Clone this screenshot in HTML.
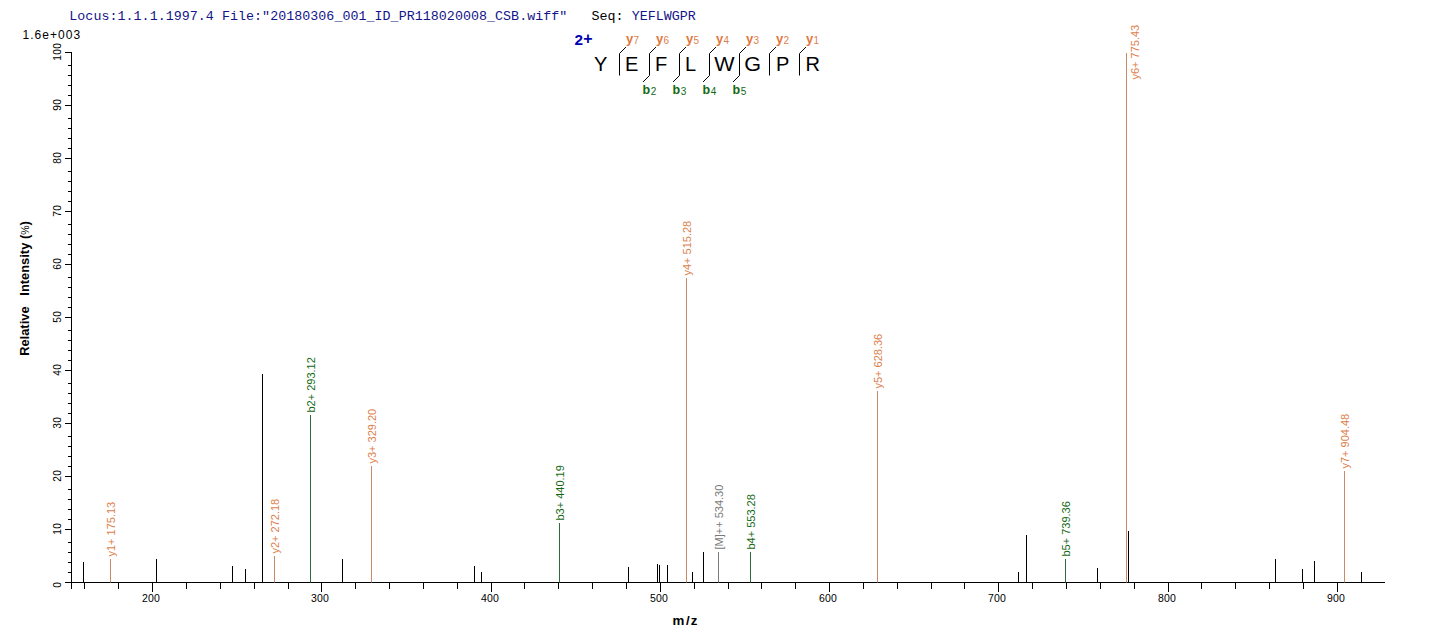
<!DOCTYPE html>
<html><head><meta charset="utf-8"><style>
html,body{margin:0;padding:0;background:#fff;width:1436px;height:642px}
svg{display:block}
text{font-family:"Liberation Sans",sans-serif}
.mono{font-family:"Liberation Mono",monospace}
.serif{font-family:"Liberation Serif",serif}
</style></head><body>
<svg width="1436" height="642" viewBox="0 0 1436 642">
<rect width="1436" height="642" fill="#fff"/>
<line x1="65" y1="582.5" x2="1385" y2="582.5" stroke="#000" stroke-width="1"/>
<line x1="71.5" y1="52" x2="71.5" y2="589" stroke="#000" stroke-width="1"/>
<line x1="65" y1="582.5" x2="71.5" y2="582.5" stroke="#000" stroke-width="1"/>
<line x1="65" y1="529.5" x2="71.5" y2="529.5" stroke="#000" stroke-width="1"/>
<line x1="65" y1="476.5" x2="71.5" y2="476.5" stroke="#000" stroke-width="1"/>
<line x1="65" y1="423.5" x2="71.5" y2="423.5" stroke="#000" stroke-width="1"/>
<line x1="65" y1="370.5" x2="71.5" y2="370.5" stroke="#000" stroke-width="1"/>
<line x1="65" y1="317.5" x2="71.5" y2="317.5" stroke="#000" stroke-width="1"/>
<line x1="65" y1="264.5" x2="71.5" y2="264.5" stroke="#000" stroke-width="1"/>
<line x1="65" y1="211.5" x2="71.5" y2="211.5" stroke="#000" stroke-width="1"/>
<line x1="65" y1="158.5" x2="71.5" y2="158.5" stroke="#000" stroke-width="1"/>
<line x1="65" y1="105.5" x2="71.5" y2="105.5" stroke="#000" stroke-width="1"/>
<line x1="65" y1="52.5" x2="71.5" y2="52.5" stroke="#000" stroke-width="1"/>
<line x1="68" y1="572.5" x2="71.5" y2="572.5" stroke="#000" stroke-width="1"/>
<line x1="68" y1="562.5" x2="71.5" y2="562.5" stroke="#000" stroke-width="1"/>
<line x1="68" y1="552.5" x2="71.5" y2="552.5" stroke="#000" stroke-width="1"/>
<line x1="68" y1="542.5" x2="71.5" y2="542.5" stroke="#000" stroke-width="1"/>
<line x1="68" y1="519.5" x2="71.5" y2="519.5" stroke="#000" stroke-width="1"/>
<line x1="68" y1="509.5" x2="71.5" y2="509.5" stroke="#000" stroke-width="1"/>
<line x1="68" y1="499.5" x2="71.5" y2="499.5" stroke="#000" stroke-width="1"/>
<line x1="68" y1="489.5" x2="71.5" y2="489.5" stroke="#000" stroke-width="1"/>
<line x1="68" y1="466.5" x2="71.5" y2="466.5" stroke="#000" stroke-width="1"/>
<line x1="68" y1="456.5" x2="71.5" y2="456.5" stroke="#000" stroke-width="1"/>
<line x1="68" y1="446.5" x2="71.5" y2="446.5" stroke="#000" stroke-width="1"/>
<line x1="68" y1="436.5" x2="71.5" y2="436.5" stroke="#000" stroke-width="1"/>
<line x1="68" y1="413.5" x2="71.5" y2="413.5" stroke="#000" stroke-width="1"/>
<line x1="68" y1="403.5" x2="71.5" y2="403.5" stroke="#000" stroke-width="1"/>
<line x1="68" y1="393.5" x2="71.5" y2="393.5" stroke="#000" stroke-width="1"/>
<line x1="68" y1="383.5" x2="71.5" y2="383.5" stroke="#000" stroke-width="1"/>
<line x1="68" y1="360.5" x2="71.5" y2="360.5" stroke="#000" stroke-width="1"/>
<line x1="68" y1="350.5" x2="71.5" y2="350.5" stroke="#000" stroke-width="1"/>
<line x1="68" y1="340.5" x2="71.5" y2="340.5" stroke="#000" stroke-width="1"/>
<line x1="68" y1="330.5" x2="71.5" y2="330.5" stroke="#000" stroke-width="1"/>
<line x1="68" y1="307.5" x2="71.5" y2="307.5" stroke="#000" stroke-width="1"/>
<line x1="68" y1="297.5" x2="71.5" y2="297.5" stroke="#000" stroke-width="1"/>
<line x1="68" y1="287.5" x2="71.5" y2="287.5" stroke="#000" stroke-width="1"/>
<line x1="68" y1="277.5" x2="71.5" y2="277.5" stroke="#000" stroke-width="1"/>
<line x1="68" y1="254.5" x2="71.5" y2="254.5" stroke="#000" stroke-width="1"/>
<line x1="68" y1="244.5" x2="71.5" y2="244.5" stroke="#000" stroke-width="1"/>
<line x1="68" y1="234.5" x2="71.5" y2="234.5" stroke="#000" stroke-width="1"/>
<line x1="68" y1="224.5" x2="71.5" y2="224.5" stroke="#000" stroke-width="1"/>
<line x1="68" y1="201.5" x2="71.5" y2="201.5" stroke="#000" stroke-width="1"/>
<line x1="68" y1="191.5" x2="71.5" y2="191.5" stroke="#000" stroke-width="1"/>
<line x1="68" y1="181.5" x2="71.5" y2="181.5" stroke="#000" stroke-width="1"/>
<line x1="68" y1="171.5" x2="71.5" y2="171.5" stroke="#000" stroke-width="1"/>
<line x1="68" y1="148.5" x2="71.5" y2="148.5" stroke="#000" stroke-width="1"/>
<line x1="68" y1="138.5" x2="71.5" y2="138.5" stroke="#000" stroke-width="1"/>
<line x1="68" y1="128.5" x2="71.5" y2="128.5" stroke="#000" stroke-width="1"/>
<line x1="68" y1="118.5" x2="71.5" y2="118.5" stroke="#000" stroke-width="1"/>
<line x1="68" y1="95.5" x2="71.5" y2="95.5" stroke="#000" stroke-width="1"/>
<line x1="68" y1="85.5" x2="71.5" y2="85.5" stroke="#000" stroke-width="1"/>
<line x1="68" y1="75.5" x2="71.5" y2="75.5" stroke="#000" stroke-width="1"/>
<line x1="68" y1="65.5" x2="71.5" y2="65.5" stroke="#000" stroke-width="1"/>
<line x1="152.5" y1="582.5" x2="152.5" y2="592" stroke="#000" stroke-width="1"/>
<line x1="321.5" y1="582.5" x2="321.5" y2="592" stroke="#000" stroke-width="1"/>
<line x1="491.5" y1="582.5" x2="491.5" y2="592" stroke="#000" stroke-width="1"/>
<line x1="660.5" y1="582.5" x2="660.5" y2="592" stroke="#000" stroke-width="1"/>
<line x1="829.5" y1="582.5" x2="829.5" y2="592" stroke="#000" stroke-width="1"/>
<line x1="998.5" y1="582.5" x2="998.5" y2="592" stroke="#000" stroke-width="1"/>
<line x1="1168.5" y1="582.5" x2="1168.5" y2="592" stroke="#000" stroke-width="1"/>
<line x1="1337.5" y1="582.5" x2="1337.5" y2="592" stroke="#000" stroke-width="1"/>
<line x1="84.5" y1="582.5" x2="84.5" y2="589" stroke="#000" stroke-width="1"/>
<line x1="118.5" y1="582.5" x2="118.5" y2="589" stroke="#000" stroke-width="1"/>
<line x1="186.5" y1="582.5" x2="186.5" y2="589" stroke="#000" stroke-width="1"/>
<line x1="220.5" y1="582.5" x2="220.5" y2="589" stroke="#000" stroke-width="1"/>
<line x1="254.5" y1="582.5" x2="254.5" y2="589" stroke="#000" stroke-width="1"/>
<line x1="288.5" y1="582.5" x2="288.5" y2="589" stroke="#000" stroke-width="1"/>
<line x1="355.5" y1="582.5" x2="355.5" y2="589" stroke="#000" stroke-width="1"/>
<line x1="389.5" y1="582.5" x2="389.5" y2="589" stroke="#000" stroke-width="1"/>
<line x1="423.5" y1="582.5" x2="423.5" y2="589" stroke="#000" stroke-width="1"/>
<line x1="457.5" y1="582.5" x2="457.5" y2="589" stroke="#000" stroke-width="1"/>
<line x1="524.5" y1="582.5" x2="524.5" y2="589" stroke="#000" stroke-width="1"/>
<line x1="558.5" y1="582.5" x2="558.5" y2="589" stroke="#000" stroke-width="1"/>
<line x1="592.5" y1="582.5" x2="592.5" y2="589" stroke="#000" stroke-width="1"/>
<line x1="626.5" y1="582.5" x2="626.5" y2="589" stroke="#000" stroke-width="1"/>
<line x1="694.5" y1="582.5" x2="694.5" y2="589" stroke="#000" stroke-width="1"/>
<line x1="728.5" y1="582.5" x2="728.5" y2="589" stroke="#000" stroke-width="1"/>
<line x1="761.5" y1="582.5" x2="761.5" y2="589" stroke="#000" stroke-width="1"/>
<line x1="795.5" y1="582.5" x2="795.5" y2="589" stroke="#000" stroke-width="1"/>
<line x1="863.5" y1="582.5" x2="863.5" y2="589" stroke="#000" stroke-width="1"/>
<line x1="897.5" y1="582.5" x2="897.5" y2="589" stroke="#000" stroke-width="1"/>
<line x1="931.5" y1="582.5" x2="931.5" y2="589" stroke="#000" stroke-width="1"/>
<line x1="964.5" y1="582.5" x2="964.5" y2="589" stroke="#000" stroke-width="1"/>
<line x1="1032.5" y1="582.5" x2="1032.5" y2="589" stroke="#000" stroke-width="1"/>
<line x1="1066.5" y1="582.5" x2="1066.5" y2="589" stroke="#000" stroke-width="1"/>
<line x1="1100.5" y1="582.5" x2="1100.5" y2="589" stroke="#000" stroke-width="1"/>
<line x1="1134.5" y1="582.5" x2="1134.5" y2="589" stroke="#000" stroke-width="1"/>
<line x1="1201.5" y1="582.5" x2="1201.5" y2="589" stroke="#000" stroke-width="1"/>
<line x1="1235.5" y1="582.5" x2="1235.5" y2="589" stroke="#000" stroke-width="1"/>
<line x1="1269.5" y1="582.5" x2="1269.5" y2="589" stroke="#000" stroke-width="1"/>
<line x1="1303.5" y1="582.5" x2="1303.5" y2="589" stroke="#000" stroke-width="1"/>
<line x1="83.5" y1="562" x2="83.5" y2="582.5" stroke="#000" stroke-width="1"/>
<line x1="156.5" y1="559" x2="156.5" y2="582.5" stroke="#000" stroke-width="1"/>
<line x1="232.5" y1="566" x2="232.5" y2="582.5" stroke="#000" stroke-width="1"/>
<line x1="245.5" y1="569" x2="245.5" y2="582.5" stroke="#000" stroke-width="1"/>
<line x1="262.5" y1="374" x2="262.5" y2="582.5" stroke="#000" stroke-width="1"/>
<line x1="342.5" y1="559" x2="342.5" y2="582.5" stroke="#000" stroke-width="1"/>
<line x1="474.5" y1="566" x2="474.5" y2="582.5" stroke="#000" stroke-width="1"/>
<line x1="481.5" y1="572" x2="481.5" y2="582.5" stroke="#000" stroke-width="1"/>
<line x1="628.5" y1="567" x2="628.5" y2="582.5" stroke="#000" stroke-width="1"/>
<line x1="657.5" y1="564" x2="657.5" y2="582.5" stroke="#000" stroke-width="1"/>
<line x1="659.5" y1="565" x2="659.5" y2="582.5" stroke="#000" stroke-width="1"/>
<line x1="667.5" y1="565" x2="667.5" y2="582.5" stroke="#000" stroke-width="1"/>
<line x1="692.5" y1="572" x2="692.5" y2="582.5" stroke="#000" stroke-width="1"/>
<line x1="703.5" y1="552" x2="703.5" y2="582.5" stroke="#000" stroke-width="1"/>
<line x1="1018.5" y1="572" x2="1018.5" y2="582.5" stroke="#000" stroke-width="1"/>
<line x1="1026.5" y1="535" x2="1026.5" y2="582.5" stroke="#000" stroke-width="1"/>
<line x1="1097.5" y1="568" x2="1097.5" y2="582.5" stroke="#000" stroke-width="1"/>
<line x1="1128.5" y1="531" x2="1128.5" y2="582.5" stroke="#000" stroke-width="1"/>
<line x1="1275.5" y1="559" x2="1275.5" y2="582.5" stroke="#000" stroke-width="1"/>
<line x1="1302.5" y1="569" x2="1302.5" y2="582.5" stroke="#000" stroke-width="1"/>
<line x1="1314.5" y1="561" x2="1314.5" y2="582.5" stroke="#000" stroke-width="1"/>
<line x1="1361.5" y1="572" x2="1361.5" y2="582.5" stroke="#000" stroke-width="1"/>
<line x1="110.5" y1="559" x2="110.5" y2="582.5" stroke="#c98a68" stroke-width="1"/>
<text transform="translate(114.5,556.5) rotate(-90)" fill="#dc7f4c" font-size="11">y1+ 175.13</text>
<line x1="274.5" y1="556" x2="274.5" y2="582.5" stroke="#c98a68" stroke-width="1"/>
<text transform="translate(278.5,553.5) rotate(-90)" fill="#dc7f4c" font-size="11">y2+ 272.18</text>
<line x1="310.5" y1="415" x2="310.5" y2="582.5" stroke="#2e6b38" stroke-width="1"/>
<text transform="translate(314.5,412.5) rotate(-90)" fill="#146a14" font-size="11">b2+ 293.12</text>
<line x1="371.5" y1="466" x2="371.5" y2="582.5" stroke="#c98a68" stroke-width="1"/>
<text transform="translate(375.5,463.5) rotate(-90)" fill="#dc7f4c" font-size="11">y3+ 329.20</text>
<line x1="559.5" y1="523" x2="559.5" y2="582.5" stroke="#2e6b38" stroke-width="1"/>
<text transform="translate(563.5,520.5) rotate(-90)" fill="#146a14" font-size="11">b3+ 440.19</text>
<line x1="686.5" y1="278" x2="686.5" y2="582.5" stroke="#c98a68" stroke-width="1"/>
<text transform="translate(690.5,275.5) rotate(-90)" fill="#dc7f4c" font-size="11">y4+ 515.28</text>
<line x1="718.5" y1="552" x2="718.5" y2="582.5" stroke="#7a7a7a" stroke-width="1"/>
<text transform="translate(722.5,549.5) rotate(-90)" fill="#7a7a7a" font-size="11">[M]++ 534.30</text>
<line x1="750.5" y1="552" x2="750.5" y2="582.5" stroke="#2e6b38" stroke-width="1"/>
<text transform="translate(754.5,549.5) rotate(-90)" fill="#146a14" font-size="11">b4+ 553.28</text>
<line x1="877.5" y1="391" x2="877.5" y2="582.5" stroke="#c98a68" stroke-width="1"/>
<text transform="translate(881.5,388.5) rotate(-90)" fill="#dc7f4c" font-size="11">y5+ 628.36</text>
<line x1="1065.5" y1="559" x2="1065.5" y2="582.5" stroke="#2e6b38" stroke-width="1"/>
<text transform="translate(1069.5,556.5) rotate(-90)" fill="#146a14" font-size="11">b5+ 739.36</text>
<line x1="1126.5" y1="53" x2="1126.5" y2="582.5" stroke="#c98a68" stroke-width="1"/>
<text transform="translate(1139,79.5) rotate(-90)" fill="#dc7f4c" font-size="11">y6+ 775.43</text>
<line x1="1344.5" y1="471" x2="1344.5" y2="582.5" stroke="#c98a68" stroke-width="1"/>
<text transform="translate(1348.5,468.5) rotate(-90)" fill="#dc7f4c" font-size="11">y7+ 904.48</text>
<text x="151" y="601.8" text-anchor="middle" font-size="10.5" letter-spacing="0.2">200</text>
<text x="320" y="601.8" text-anchor="middle" font-size="10.5" letter-spacing="0.2">300</text>
<text x="490" y="601.8" text-anchor="middle" font-size="10.5" letter-spacing="0.2">400</text>
<text x="659" y="601.8" text-anchor="middle" font-size="10.5" letter-spacing="0.2">500</text>
<text x="828" y="601.8" text-anchor="middle" font-size="10.5" letter-spacing="0.2">600</text>
<text x="997" y="601.8" text-anchor="middle" font-size="10.5" letter-spacing="0.2">700</text>
<text x="1167" y="601.8" text-anchor="middle" font-size="10.5" letter-spacing="0.2">800</text>
<text x="1336" y="601.8" text-anchor="middle" font-size="10.5" letter-spacing="0.2">900</text>
<text transform="translate(60.5,584.7) rotate(-90)" text-anchor="middle" font-size="10.2" letter-spacing="0.45">0</text>
<text transform="translate(60.5,528.7) rotate(-90)" text-anchor="middle" font-size="10.2" letter-spacing="0.45">10</text>
<text transform="translate(60.5,475.7) rotate(-90)" text-anchor="middle" font-size="10.2" letter-spacing="0.45">20</text>
<text transform="translate(60.5,422.7) rotate(-90)" text-anchor="middle" font-size="10.2" letter-spacing="0.45">30</text>
<text transform="translate(60.5,369.7) rotate(-90)" text-anchor="middle" font-size="10.2" letter-spacing="0.45">40</text>
<text transform="translate(60.5,316.7) rotate(-90)" text-anchor="middle" font-size="10.2" letter-spacing="0.45">50</text>
<text transform="translate(60.5,263.7) rotate(-90)" text-anchor="middle" font-size="10.2" letter-spacing="0.45">60</text>
<text transform="translate(60.5,210.7) rotate(-90)" text-anchor="middle" font-size="10.2" letter-spacing="0.45">70</text>
<text transform="translate(60.5,157.7) rotate(-90)" text-anchor="middle" font-size="10.2" letter-spacing="0.45">80</text>
<text transform="translate(60.5,104.7) rotate(-90)" text-anchor="middle" font-size="10.2" letter-spacing="0.45">90</text>
<text transform="translate(60.5,51.7) rotate(-90)" text-anchor="middle" font-size="10.2" letter-spacing="0.45">100</text>
<text x="22.5" y="38.6" font-size="12" letter-spacing="1.05">1.6e+003</text>
<text transform="translate(28.5,288.5) rotate(-90)" text-anchor="middle" font-size="12.9" font-weight="bold" xml:space="preserve">Relative   Intensity (<tspan font-weight="normal" font-size="10.5">%</tspan>)</text>
<text x="672.6" y="625" font-size="13.3" font-weight="bold">m<tspan dx="1.6">/</tspan><tspan dx="0.9">z</tspan></text>
<text x="69.3" y="19.8" class="mono" font-size="13.33" letter-spacing="0.035" fill="#14148a" xml:space="preserve">Locus:1.1.1.1997.4 File:"20180306_001_ID_PR118020008_CSB.wiff"   <tspan fill="#000">Seq:</tspan> YEFLWGPR</text>
<text x="574.5" y="44.8" font-size="15.3" font-weight="bold" fill="#0000b4">2<tspan dy="-1.3" dx="0.3" font-size="16">+</tspan></text>
<text x="594" y="71" font-size="20">Y</text>
<text x="625" y="71" font-size="20">E</text>
<text x="655" y="71" font-size="20">F</text>
<text x="685" y="71" font-size="20">L</text>
<text x="714.3" y="71" font-size="20" textLength="20.3" lengthAdjust="spacingAndGlyphs">W</text>
<text x="744.3" y="71" font-size="20" textLength="16.8" lengthAdjust="spacingAndGlyphs">G</text>
<text x="776" y="71" font-size="20">P</text>
<text x="805.5" y="71" font-size="20">R</text>
<path d="M626.0,47 L619.5,53.5 L619.5,75.5" fill="none" stroke="#000" stroke-width="1"/>
<text x="626.0" y="42.5" font-size="13" font-weight="bold" fill="#e2773e">y</text>
<text x="633.5" y="43.6" font-size="10" fill="#dc7f4c">7</text>
<path d="M656.0,47 L649.5,53.5 L649.5,75.5" fill="none" stroke="#000" stroke-width="1"/>
<text x="656.0" y="42.5" font-size="13" font-weight="bold" fill="#e2773e">y</text>
<text x="663.5" y="43.6" font-size="10" fill="#dc7f4c">6</text>
<path d="M649.5,75.5 L643.0,82" fill="none" stroke="#000" stroke-width="1"/>
<text x="642.5" y="94" font-size="12.5" font-weight="bold" fill="#146a14">b</text>
<text x="650.7" y="94.5" font-size="10" fill="#146a14">2</text>
<path d="M686.0,47 L679.5,53.5 L679.5,75.5" fill="none" stroke="#000" stroke-width="1"/>
<text x="686.0" y="42.5" font-size="13" font-weight="bold" fill="#e2773e">y</text>
<text x="693.5" y="43.6" font-size="10" fill="#dc7f4c">5</text>
<path d="M679.5,75.5 L673.0,82" fill="none" stroke="#000" stroke-width="1"/>
<text x="672.5" y="94" font-size="12.5" font-weight="bold" fill="#146a14">b</text>
<text x="680.7" y="94.5" font-size="10" fill="#146a14">3</text>
<path d="M716.0,47 L709.5,53.5 L709.5,75.5" fill="none" stroke="#000" stroke-width="1"/>
<text x="716.0" y="42.5" font-size="13" font-weight="bold" fill="#e2773e">y</text>
<text x="723.5" y="43.6" font-size="10" fill="#dc7f4c">4</text>
<path d="M709.5,75.5 L703.0,82" fill="none" stroke="#000" stroke-width="1"/>
<text x="702.5" y="94" font-size="12.5" font-weight="bold" fill="#146a14">b</text>
<text x="710.7" y="94.5" font-size="10" fill="#146a14">4</text>
<path d="M746.0,47 L739.5,53.5 L739.5,75.5" fill="none" stroke="#000" stroke-width="1"/>
<text x="746.0" y="42.5" font-size="13" font-weight="bold" fill="#e2773e">y</text>
<text x="753.5" y="43.6" font-size="10" fill="#dc7f4c">3</text>
<path d="M739.5,75.5 L733.0,82" fill="none" stroke="#000" stroke-width="1"/>
<text x="732.5" y="94" font-size="12.5" font-weight="bold" fill="#146a14">b</text>
<text x="740.7" y="94.5" font-size="10" fill="#146a14">5</text>
<path d="M776.0,47 L769.5,53.5 L769.5,75.5" fill="none" stroke="#000" stroke-width="1"/>
<text x="776.0" y="42.5" font-size="13" font-weight="bold" fill="#e2773e">y</text>
<text x="783.5" y="43.6" font-size="10" fill="#dc7f4c">2</text>
<path d="M806.0,47 L799.5,53.5 L799.5,75.5" fill="none" stroke="#000" stroke-width="1"/>
<text x="806.0" y="42.5" font-size="13" font-weight="bold" fill="#e2773e">y</text>
<text x="813.5" y="43.6" font-size="10" fill="#dc7f4c">1</text>
</svg>
</body></html>
